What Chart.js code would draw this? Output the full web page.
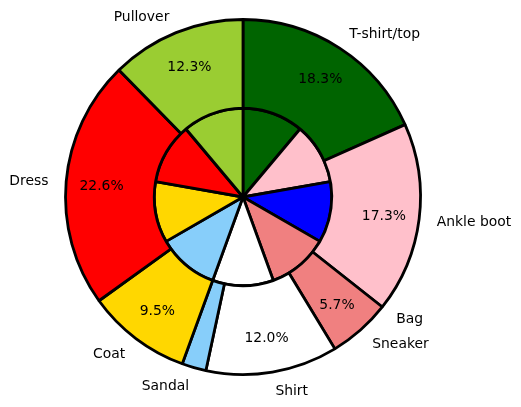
<!DOCTYPE html>
<html>
<head>
<meta charset="utf-8">
<script src="https://cdn.jsdelivr.net/npm/chart.js@4"></script>
<style>
  html, body { margin: 0; padding: 0; background: #fff; }
</style>
</head>
<body>
<canvas id="pieChart" width="521" height="407"></canvas>
<script>
const classes = ["T-shirt/top", "Ankle boot", "Bag", "Sneaker", "Shirt", "Sandal", "Coat", "Dress", "Pullover"];
const outerValues = [18.3, 17.3, 0.0, 5.7, 12.0, 2.2, 9.5, 22.6, 12.3];
const innerValues = [6000, 6000, 6000, 6000, 6000, 6000, 6000, 6000, 6000];
const colors = ["#006400", "#ffc0cb", "#0000ff", "#f08080", "#ffffff", "#87cefa", "#ffd700", "#ff0000", "#9acd32"];

const FONT = '13.9px "DejaVu Sans"';

// labels outside the ring and percentages inside, like matplotlib's pie()
const pieLabels = {
  id: "pieLabels",
  afterDraw(chart) {
    const ctx = chart.ctx;
    const meta = chart.getDatasetMeta(0);
    const total = outerValues.reduce((a, b) => a + b, 0);
    ctx.save();
    ctx.font = FONT;
    ctx.fillStyle = "#000";
    ctx.textBaseline = "middle";
    const dy = 1.5; // matplotlib centres the full text box
    meta.data.forEach((arc, i) => {
      const mid = (arc.startAngle + arc.endAngle) / 2;
      const r = arc.outerRadius;
      const lx = arc.x + Math.cos(mid) * r * 1.1;
      const ly = arc.y + Math.sin(mid) * r * 1.1;
      ctx.textAlign = Math.cos(mid) > 0 ? "left" : "right";
      ctx.fillText(classes[i], lx, ly + dy);

      const pct = outerValues[i] / total * 100;
      if (pct > 3) {
        ctx.textAlign = "center";
        ctx.fillText(pct.toFixed(1) + "%", arc.x + Math.cos(mid) * r * 0.8, arc.y + Math.sin(mid) * r * 0.8 + dy);
      }
    });
    ctx.restore();
  }
};

new Chart(document.getElementById("pieChart"), {
  type: "doughnut",
  data: {
    labels: classes,
    datasets: [
      {
        data: outerValues,
        backgroundColor: colors,
        borderColor: "#000",
        borderWidth: 2.8,
        hoverOffset: 0,
      },
      {
        data: innerValues,
        backgroundColor: colors,
        borderColor: "#000",
        borderWidth: 2.8,
        hoverOffset: 0,
      }
    ]
  },
  options: {
    responsive: false,
    animation: false,
    cutout: 0,
    radius: 177.5,
    layout: { padding: { left: 43, right: 78, top: 17, bottom: 30 } },
    plugins: {
      legend: { display: false },
      tooltip: { enabled: false }
    }
  },
  plugins: [pieLabels]
});
</script>
</body>
</html>
